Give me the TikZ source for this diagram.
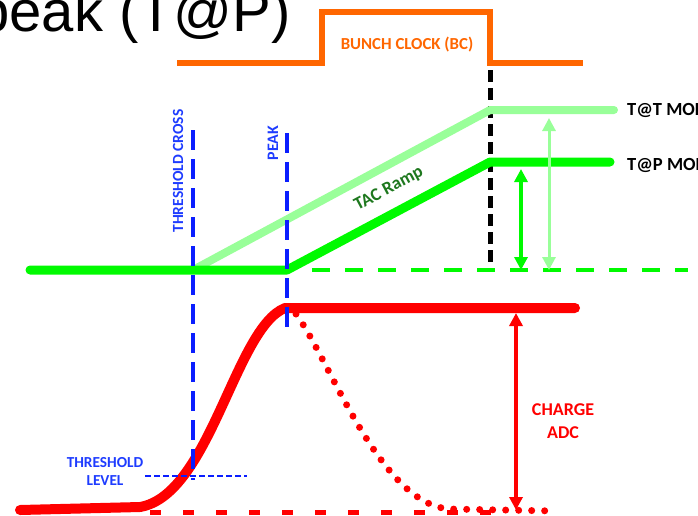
\documentclass[tikz,border=0pt]{standalone}
\usepackage{fontspec}
\setmainfont{Carlito}
\newfontfamily\titlefont{Liberation Sans}
\usetikzlibrary{arrows.meta}
\definecolor{bcorange}{RGB}{255,102,0}
\definecolor{ltgreen}{RGB}{153,255,153}
\definecolor{brgreen}{RGB}{0,250,0}
\definecolor{dkgreen}{RGB}{30,120,30}
\definecolor{mblue}{RGB}{10,30,255}
\definecolor{tblue}{RGB}{30,60,255}
\definecolor{mred}{RGB}{255,0,0}
\tikzset{
  lbl/.style={font=\fontsize{15.5}{17}\selectfont\bfseries, inner sep=0pt, align=center},
  bluedash/.style={mblue, line width=4pt, dash pattern=on 20pt off 9pt},
  dblarrow/.style={{Triangle[length=13pt,width=13pt]}-{Triangle[length=13pt,width=13pt]}},
}
\begin{document}
\begin{tikzpicture}[x=1pt,y=-1pt]
\useasboundingbox (0,0) rectangle (698,515);
% title
\node[font=\titlefont\fontsize{58}{64}\selectfont, anchor=base east, inner sep=0pt] (title) at (291,31) {peak (T@P)};
% bunch clock
\coordinate (bc0) at (177,63);
\coordinate (bc1) at (322,63);
\coordinate (bc2) at (322,12);
\coordinate (bc3) at (490,12);
\coordinate (bc4) at (490,63);
\coordinate (bc5) at (583,63);
\draw[bcorange, line width=6pt] (bc0) -- (bc1) -- (bc2) -- (bc3) -- (bc4) -- (bc5);
\node[lbl, text=bcorange, font=\fontsize{16.8}{19}\selectfont\bfseries] (bclbl) at (407,45) {BUNCH CLOCK (BC)};
% black dashed
\coordinate (bk0) at (490,70);
\coordinate (bk1) at (490,268);
\draw[black, line width=5pt, dash pattern=on 12pt off 6pt] (bk0) -- (bk1);
% green lines
\coordinate (g0) at (30,270);
\coordinate (tc) at (193,270);
\coordinate (pk) at (287,270);
\coordinate (tt1) at (490,110);
\coordinate (tt2) at (614,110);
\coordinate (tp1) at (490,162);
\coordinate (tp2) at (610,162);
\draw[ltgreen, line width=8pt, line cap=round, line join=round] (tc) -- (tt1) -- (tt2);
\draw[brgreen, line width=9pt, line cap=round, line join=round] (g0) -- (pk) -- (tp1) -- (tp2);
\draw[brgreen, line width=4pt, dash pattern=on 18pt off 15pt] (312,270) -- (688,270);
\node[lbl, text=dkgreen, rotate=28, font=\fontsize{18}{20}\selectfont\bfseries] (tac) at (389,189) {TAC Ramp};
\node[lbl, anchor=west, font=\fontsize{18.5}{20}\selectfont\bfseries] (ttm) at (627,110) {T@T MODE};
\node[lbl, anchor=west, font=\fontsize{18.5}{20}\selectfont\bfseries] (tpm) at (627,165) {T@P MODE};
\coordinate (a1t) at (521,169);
\coordinate (a1b) at (521,270);
\coordinate (a2t) at (549,118);
\coordinate (a2b) at (549,270);
\draw[brgreen, line width=3.5pt, dblarrow] (a1t) -- (a1b);
\draw[ltgreen, line width=3pt, dblarrow] (a2t) -- (a2b);
% red signal
\coordinate (r0) at (20,510);
\coordinate (r1) at (140,507);
\coordinate (rp) at (285,308);
\coordinate (r2) at (575,308);
\draw[mred, line width=10pt, line cap=round, line join=round] (r0) -- (r1) .. controls (210,495) and (235,328) .. (rp) -- (r2);
\draw[mred, line width=5pt, dash pattern=on 11pt off 22pt] (150,512) -- (505,512);
\draw[mred, line width=7pt, line cap=round, dash pattern=on 0pt off 13pt] (296,314) .. controls (330,360) and (380,505) .. (450,509) -- (556,511);
\coordinate (ra1) at (516,313);
\coordinate (ra2) at (516,510);
\draw[mred, line width=3.5pt, dblarrow] (ra1) -- (ra2);
\node[lbl, text=mred, font=\fontsize{18}{23}\selectfont\bfseries] (adc) at (563,421) {CHARGE\\ADC};
% blue markers
\coordinate (tcT) at (193,130);
\coordinate (tcB) at (193,480);
\coordinate (pkT) at (287,133);
\coordinate (pkB) at (287,330);
\draw[bluedash] (tcT) -- (tcB);
\draw[bluedash] (pkT) -- (pkB);
\draw[mblue, line width=2pt, dash pattern=on 6pt off 3pt] (145,476) -- (247,476);
\node[lbl, text=tblue, rotate=90] (tclbl) at (178,171) {THRESHOLD CROSS};
\node[lbl, text=tblue, rotate=90, font=\fontsize{16}{18}\selectfont\bfseries] (pklbl) at (273,143) {PEAK};
\node[lbl, text=tblue, font=\fontsize{15.3}{18}\selectfont\bfseries] (tllbl) at (105,471) {THRESHOLD\\LEVEL};
\end{tikzpicture}
\end{document}
